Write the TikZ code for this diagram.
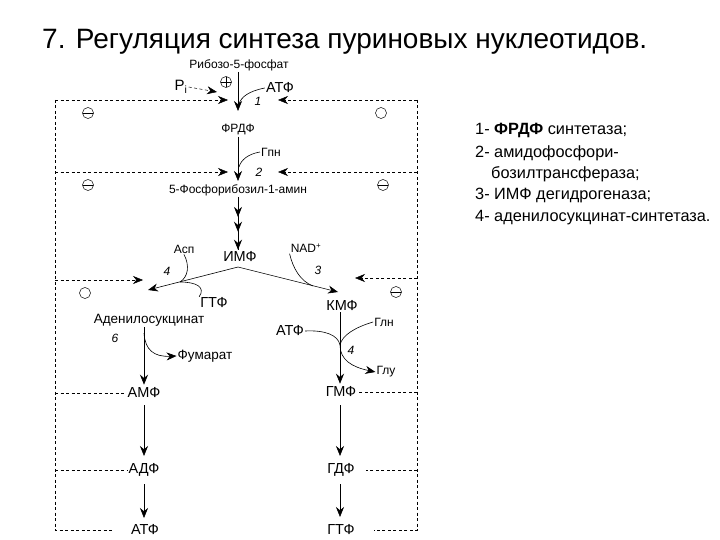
\documentclass[tikz,border=0pt]{standalone}
\usepackage{fontspec}
\setmainfont{Liberation Sans}
\usetikzlibrary{arrows.meta,decorations.markings}
\begin{document}
\begin{tikzpicture}[x=1pt,y=-1pt,
  lbl/.style={font=\fontsize{12}{14}\selectfont, inner sep=1pt},
  mid/.style={font=\fontsize{13.5}{15}\selectfont, inner sep=1pt},
  big/.style={font=\fontsize{14.5}{16}\selectfont, inner sep=1pt},
  num/.style={font=\fontsize{12}{14}\selectfont\itshape, inner sep=1pt},
  leg/.style={font=\fontsize{16.3}{19}\selectfont, anchor=west, inner sep=0pt},
  mainarr/.style={line width=0.6pt, -{Stealth[length=10pt,width=8pt]}},
  thin/.style={line width=0.6pt},
  fb/.style={dash pattern=on 3pt off 2.5pt, line width=0.5pt},
  fba/.style={fb, -{Stealth[length=10pt,width=8pt]}},
  sym/.style={circle, draw, minimum size=11pt, inner sep=0pt, line width=0.5pt},
  minus/.style={sym, path picture={\draw[line width=0.5pt] (path picture bounding box.west) -- (path picture bounding box.east);}},
  plus/.style={sym, path picture={\draw[line width=0.5pt] (path picture bounding box.west) -- (path picture bounding box.east) (path picture bounding box.north) -- (path picture bounding box.south);}},
]
\useasboundingbox (0,0) rectangle (720,540);
% title
\node[anchor=west, inner sep=0pt, font=\fontsize{28}{32}\selectfont] (title) at (42,42) {7. Регуляция синтеза пуриновых нуклеотидов.};
% legend
\node[leg] (l1) at (475,130) {1- \textbf{ФРДФ} синтетаза;};
\node[leg] (l2) at (475,153) {2- амидофосфори-};
\node[leg] (l2b) at (491,174) {бозилтрансфераза;};
\node[leg] (l3) at (475,196) {3- ИМФ дегидрогеназа;};
\node[leg] (l4) at (475,218) {4- аденилосукцинат-синтетаза.};
% main nodes
\node[lbl] (r5p) at (239,65) {Рибозо-5-фосфат};
\node[font=\fontsize{15}{17}\selectfont, inner sep=1pt] (pi) at (181,87) {P\textsubscript{i}};
\node[big] (atf1) at (280,88) {АТФ};
\node[num] (n1) at (258,101) {1};
\node[lbl] (frdf) at (238,130) {ФРДФ};
\node[lbl] (gln1) at (271,152) {Гпн};
\node[num] (n2) at (259,172) {2};
\node[lbl] (amin) at (238,190) {5-Фосфорибозил-1-амин};
\node[big] (imf) at (240,257) {ИМФ};
\node[lbl] (asp) at (184,249) {Асп};
\node[num] (n4a) at (167,271) {4};
\node[lbl] (nad) at (306,248) {NAD\textsuperscript{+}};
\node[num] (n3) at (318,270) {3};
\node[big] (gtf1) at (214,303) {ГТФ};
\node[big] (kmf) at (342,306) {КМФ};
\node[mid] (adsuc) at (149,320) {Аденилосукцинат};
\node[num] (n6) at (115,338) {6};
\node[mid] (fum) at (205,356) {Фумарат};
\node[big] (atf2) at (290,331) {АТФ};
\node[lbl] (gln2) at (384,322) {Глн};
\node[num] (n4b) at (351,350) {4};
\node[lbl] (glu) at (386,372) {Глу};
\node[big] (amf) at (144,393) {АМФ};
\node[big] (gmf) at (341,392) {ГМФ};
\node[big] (adf) at (144,470) {АДФ};
\node[big] (gdf) at (341,470) {ГДФ};
\node[big] (atf3) at (145,530) {АТФ};
\node[big] (gtf3) at (341,530) {ГТФ};
% symbols
\node[plus] (s0) at (226,82) {};
\node[minus] (s1l) at (88,113) {};
\node[sym] (s1r) at (381,113) {};
\node[minus] (s2l) at (88,185) {};
\node[minus] (s2r) at (383,185) {};
\node[sym] (s3l) at (85,293) {};
\node[minus] (s3r) at (396,292) {};
% coordinates
\coordinate (t1) at (238,111);
\coordinate (j1) at (239,104);
\coordinate (t2) at (238,181);
\coordinate (j2) at (239,167);
\coordinate (imfs) at (238,267);
\coordinate (tl) at (148,290);
\coordinate (tr) at (338,292);
\coordinate (ja) at (180,282);
\coordinate (jn) at (313,286);
\coordinate (jk) at (340,345);
\coordinate (pit) at (217,92);
\coordinate (la1) at (144,405);
\coordinate (la2) at (144,456);
\coordinate (la3) at (144,484);
\coordinate (la4) at (144,518);
\coordinate (ra1) at (340,405);
\coordinate (ra2) at (340,456);
\coordinate (ra3) at (340,484);
\coordinate (ra4) at (340,517);
% main pathway
\draw[mainarr] (r5p.south -| t1) -- (t1);
\draw[thin] (atf1.west) .. controls (249,91) and (241,97) .. (j1);
\draw[mainarr] (frdf.south -| t2) -- (t2);
\draw[thin] (gln1.west) .. controls (248,154) and (241,160) .. (j2);
\draw[thin, decoration={markings,
   mark=at position 0.38 with {\arrow{Stealth[length=10pt,width=8pt]}},
   mark=at position 0.66 with {\arrow{Stealth[length=10pt,width=8pt]}},
   mark=at position 1 with {\arrow{Stealth[length=10pt,width=8pt]}}}, postaction={decorate}]
   (amin.south -| imfs) -- ([yshift=1pt]imf.north -| imfs);
\draw[mainarr] (imfs) -- (tl);
\draw[mainarr] (imfs) -- (tr);
\draw[thin] (asp.south) .. controls (190,266) and (188,277) .. (ja);
\draw[thin] (gtf1.north west) .. controls (206,287) and (196,282) .. (ja);
\draw[thin] (nad.south west) .. controls (293,268) and (300,281) .. (jn);
\draw[mainarr] (adsuc.south -| amf.north) -- ([yshift=2pt]amf.north);
\draw[thin, -{Stealth[length=10pt,width=8pt]}] (144,333) .. controls (145,350) and (154,357) .. (fum.west);
\draw[mainarr] (kmf.south -| jk) -- ([yshift=2pt]gmf.north -| jk);
\draw[thin] (atf2.east) .. controls (325,330) and (338,335) .. (jk);
\draw[thin] (gln2.west) .. controls (356,327) and (342,335) .. (jk);
\draw[thin, -{Stealth[length=10pt,width=8pt]}] (jk) .. controls (340,360) and (352,367) .. (glu.west);
\draw[mainarr] (la1) -- (la2);
\draw[mainarr] (la3) -- (la4);
\draw[mainarr] (ra1) -- (ra2);
\draw[mainarr] (ra3) -- (ra4);
% feedback (dashed)
\draw[fba] (pi.east) -- (pit);
\draw[fb] (55,100) -- (55,530) -- ([xshift=-16pt]atf3.west);
\draw[fba] (55,100) -- (228,100);
\draw[fba] (55,172) -- (228,172);
\draw[fba] (55,280) -- (143,280);
\draw[fb] (55,393) -- (amf.west);
\draw[fb] (55,470) -- (adf.west);
\draw[fb] (417,100) -- (417,530) -- ([xshift=18pt]gtf3.east);
\draw[fba] (417,100) -- (278,100);
\draw[fba] (417,172) -- (278,172);
\draw[fba] (417,278) -- (355,278);
\draw[fb] (417,392) -- (gmf.east);
\draw[fb] (417,470) -- ([xshift=10pt]gdf.east);
\end{tikzpicture}
\end{document}
